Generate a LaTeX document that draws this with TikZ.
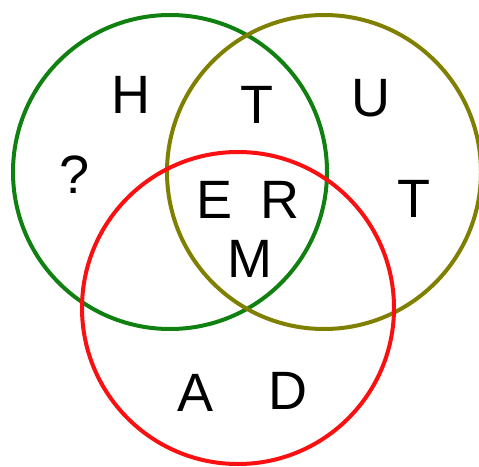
\documentclass[tikz,border=0pt]{standalone}
\usepackage{fontspec}
\setmainfont{Liberation Sans}
\definecolor{vgreen}{RGB}{16,128,16}
\definecolor{volive}{RGB}{128,128,0}
\definecolor{vred}{RGB}{250,16,16}
\begin{document}
\begin{tikzpicture}[x=1pt,y=-1pt,
  ring/.style={line width=4pt},
  lett/.style={inner sep=0pt,anchor=base,font=\fontsize{54}{54}\selectfont}]
\useasboundingbox (0,0) rectangle (479,466);
\draw[ring,vgreen] (170,172) circle[radius=157];
\draw[ring,volive] (324,172) circle[radius=157];
\draw[ring,vred] (238,308) circle[radius=156];
\node[lett] (h) at (131,113) {H};
\node[lett] (t1) at (257,123) {T};
\node[lett] (u) at (371,116) {U};
\node[lett] (q) at (75,193) {?};
\node[lett] (e) at (215,218) {E};
\node[lett] (r) at (280,218) {R};
\node[lett] (t2) at (414,217) {T};
\node[lett] (m) at (250,277) {M};
\node[lett] (a) at (196,411) {A};
\node[lett] (d) at (288,409) {D};
\end{tikzpicture}
\end{document}
